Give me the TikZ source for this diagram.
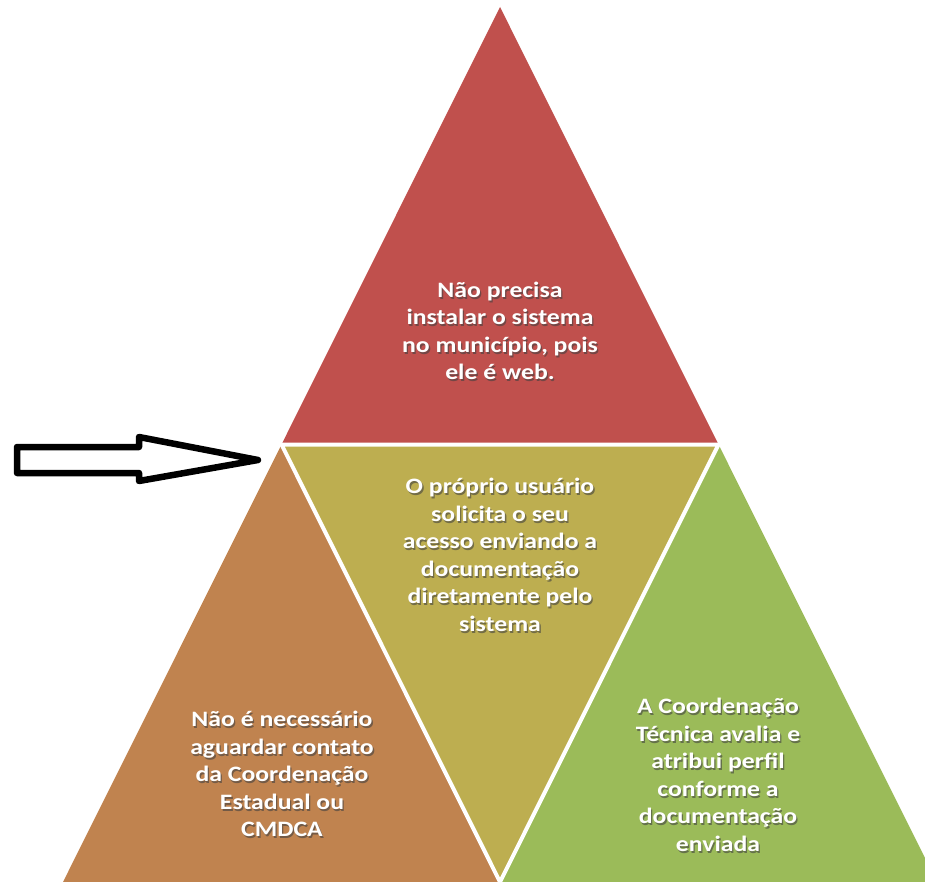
\documentclass[tikz,border=0pt]{standalone}
\usepackage{fontspec}
\setmainfont{Carlito}
\newfontfamily\widefont[FakeStretch=1.17]{Carlito}
\usetikzlibrary{calc}
\definecolor{cred}{HTML}{C0504D}
\definecolor{colive}{HTML}{BDAE50}
\definecolor{corange}{HTML}{C0834F}
\definecolor{cgreen}{HTML}{9BBB59}
\begin{document}
\begin{tikzpicture}[x=1pt,y=-1pt,
  txt/.style={align=center,text=white,font=\widefont\fontsize{22}{27.5}\selectfont\bfseries},
  shd/.style={align=center,text=black!75,opacity=0.6,font=\widefont\fontsize{22}{27.5}\selectfont\bfseries},
  gap/.style={white,line width=4pt,line join=miter}]
\useasboundingbox (0,0) rectangle (925,882);
\coordinate (A) at (500,7);
\coordinate (B) at (63,882);
\coordinate (C) at (937,882);
\coordinate (AB) at ($(A)!0.5!(B)$);
\coordinate (AC) at ($(A)!0.5!(C)$);
\coordinate (BC) at ($(B)!0.5!(C)$);
\begin{scope}
\clip (0,0) rectangle (925,882);
\fill[cred] (A) -- (AB) -- (AC) -- cycle;
\fill[corange] (AB) -- (B) -- (BC) -- cycle;
\fill[cgreen] (AC) -- (BC) -- (C) -- cycle;
\fill[colive] (AB) -- (AC) -- (BC) -- cycle;
\draw[gap] (AB) -- (AC) -- (BC) -- cycle;
\end{scope}
% text shadows
\foreach \p/\t in {{500,331}/{Não precisa\\instalar o sistema\\no município, pois\\ele é web.},
  {500,555}/{O próprio usuário\\solicita o seu\\acesso enviando a\\documentação\\diretamente pelo\\sistema},
  {282,774}/{Não é necessário\\aguardar contato\\da Coordenação\\Estadual ou\\CMDCA},
  {718,775}/{A Coordenação\\Técnica avalia e\\atribui perfil\\conforme a\\documentação\\enviada}}{
  \node[shd] at ($(\p)+(1.3,2)$) {\t};
}
\node[txt] (t1) at (500,331) {Não precisa\\instalar o sistema\\no município, pois\\ele é web.};
\node[txt] (t2) at (500,555) {O próprio usuário\\solicita o seu\\acesso enviando a\\documentação\\diretamente pelo\\sistema};
\node[txt] (t3) at (282,774) {Não é necessário\\aguardar contato\\da Coordenação\\Estadual ou\\CMDCA};
\node[txt] (t4) at (718,775) {A Coordenação\\Técnica avalia e\\atribui perfil\\conforme a\\documentação\\enviada};
% arrow
\draw[line width=6.5pt,line join=round,fill=white] (17,447) -- (139,447) -- (139,437) -- (258,460) -- (139,481) -- (139,473) -- (17,473) -- cycle;
\end{tikzpicture}
\end{document}
